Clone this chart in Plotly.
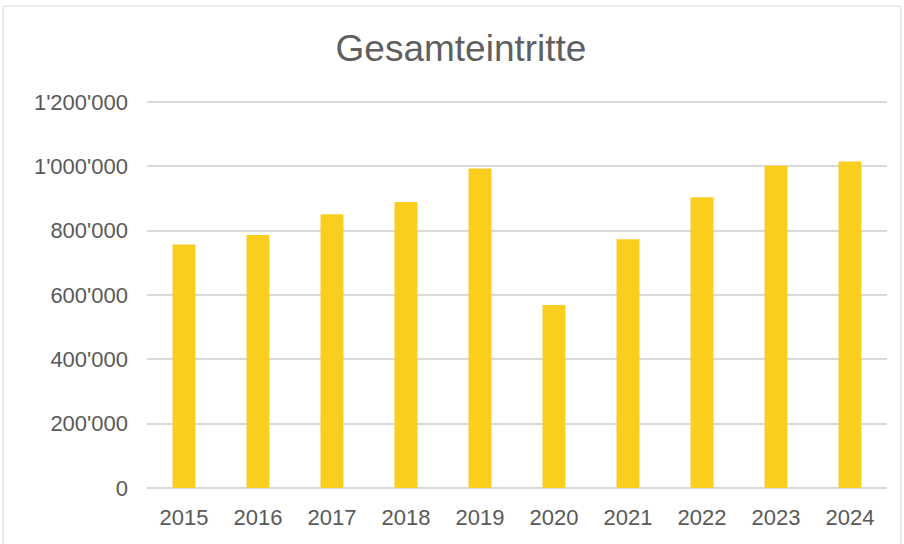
import plotly.graph_objects as go

years = ["2015", "2016", "2017", "2018", "2019", "2020", "2021", "2022", "2023", "2024"]
entries = [756500, 786600, 851000, 889000, 993000, 569000, 773000, 904000, 1002000, 1015000]
y_tick_vals = [0, 200000, 400000, 600000, 800000, 1000000, 1200000]
y_tick_text = ["0", "200'000", "400'000", "600'000", "800'000", "1'000'000", "1'200'000"]
title_text = "Gesamteintritte"

W, H = 904, 544
ml, mr, mt, mb = 147, 17, 100, 55.5
pw, ph = W - ml - mr, H - mt - mb

fig = go.Figure(go.Bar(x=years, y=entries, marker=dict(color="#F9CE1F", line=dict(width=0)),
                       hoverinfo="x+y"))

font = "Liberation Sans, Arial, sans-serif"
fig.update_layout(
    width=W, height=H,
    margin=dict(l=ml, r=mr, t=mt, b=mb),
    paper_bgcolor="white", plot_bgcolor="white",
    bargap=0.69,
    showlegend=False,
    title=dict(text=title_text, x=(461) / W, xanchor="center", y=1 - 48 / H, yanchor="middle",
               font=dict(family=font, size=37, color="#5F5F5F")),
    font=dict(family=font, color="#595959"),
    xaxis=dict(showgrid=False, showline=False, ticks="", tickfont=dict(size=22, color="#595959"),
               ticklabelstandoff=14, fixedrange=True),
    yaxis=dict(range=[0, 1200000 * 1.005], tickvals=y_tick_vals, ticktext=y_tick_text,
               showgrid=True, gridcolor="#D9D9D9", gridwidth=1.5,
               zeroline=True, zerolinecolor="#D9D9D9", zerolinewidth=1.5,
               showline=False, ticks="", tickfont=dict(size=22, color="#595959"),
               ticklabelstandoff=18, fixedrange=True),
)

# outer chart border
x0 = (3 - ml) / pw
x1 = (901 - ml) / pw
y1 = 1 + (mt - 6) / ph
y0 = -(mb + 10) / ph
fig.add_shape(type="rect", xref="paper", yref="paper", x0=x0, x1=x1, y0=y0, y1=y1,
              line=dict(color="#D9D9D9", width=1), layer="below")

fig.write_html("out.html", config={"displayModeBar": False},
               post_script="document.body.style.margin='0';document.body.style.overflow='hidden';")
